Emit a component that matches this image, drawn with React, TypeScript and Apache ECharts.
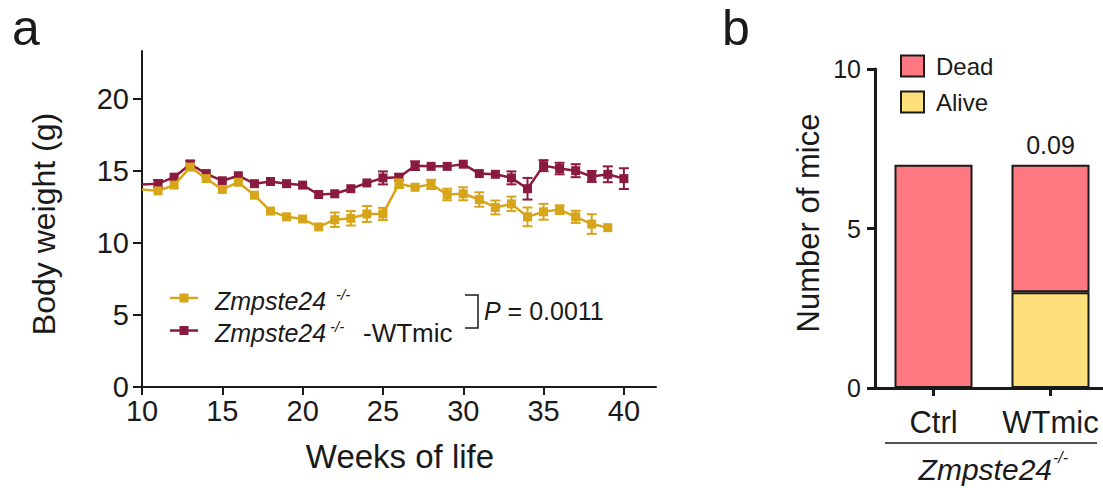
import React, { useEffect, useRef } from "react";
import * as echarts from "echarts";

// ---- Panel a: body weight ----
const weeks = [10, 11, 12, 13, 14, 15, 16, 17, 18, 19, 20, 21, 22, 23, 24, 25, 26, 27, 28, 29, 30, 31, 32, 33, 34, 35, 36, 37, 38, 39, 40];
const koMean = [13.7, 13.6, 14.0, 15.25, 14.45, 13.7, 14.2, 13.3, 12.2, 11.8, 11.65, 11.1, 11.6, 11.7, 12.0, 12.0, 14.1, 13.85, 14.05, 13.35, 13.4, 13.0, 12.45, 12.7, 11.8, 12.15, 12.3, 11.8, 11.3, 11.05, null];
const koSem = [0, 0, 0, 0, 0, 0, 0, 0, 0, 0, 0, 0, 0.5, 0.5, 0.55, 0.42, 0.3, 0, 0.32, 0.4, 0.45, 0.5, 0.48, 0.5, 0.65, 0.55, 0.3, 0.42, 0.68, 0, null];
const wtMean = [14.05, 14.1, 14.55, 15.45, 14.8, 14.3, 14.65, 14.1, 14.25, 14.1, 14.0, 13.35, 13.4, 13.75, 14.15, 14.5, 14.55, 15.35, 15.3, 15.3, 15.45, 14.8, 14.75, 14.5, 13.75, 15.35, 15.15, 15.0, 14.6, 14.75, 14.45];
const wtSem = [0, 0.25, 0, 0.25, 0, 0, 0, 0, 0, 0, 0, 0, 0, 0, 0, 0.45, 0.2, 0.3, 0, 0, 0, 0, 0, 0.45, 0.75, 0.38, 0.4, 0.45, 0.38, 0.55, 0.72];
const weekTicks = [10, 15, 20, 25, 30, 35, 40];
const weightTicks = [0, 5, 10, 15, 20];
const weightP = "0.0011";

// ---- Panel b: survival ----
const groups = ["Ctrl", "WTmic"];
const deadCounts = [7, 4];
const aliveCounts = [0, 3];
const survivalP = ["", "0.09"];

const FONT = "'Liberation Sans', Arial, Helvetica, sans-serif";
const INK = "#1a1a1a";
const GOLD = "#D7A51A";
const MAROON = "#8A1A40";
const DEAD = "#FE7882";
const ALIVE = "#FDE07B";

function errSeries(name: string, mean: (number | null)[], sem: (number | null)[], color: string, z: number) {
  return {
    type: "custom",
    name: name + " SEM",
    xAxisIndex: 0,
    yAxisIndex: 0,
    z,
    silent: true,
    data: weeks
      .map((w, i) => [w, mean[i], sem[i]])
      .filter((d) => d[1] != null && d[2]),
    encode: { x: 0, y: 1 },
    renderItem: (_params: any, api: any) => {
      const x = api.value(0);
      const m = api.value(1);
      const e = api.value(2);
      const t = api.coord([x, m + e]);
      const b = api.coord([x, m - e]);
      const hw = 5;
      const st = { stroke: color, lineWidth: 2 };
      return {
        type: "group",
        children: [
          { type: "line", shape: { x1: t[0], y1: t[1], x2: b[0], y2: b[1] }, style: st },
          { type: "line", shape: { x1: t[0] - hw, y1: t[1], x2: t[0] + hw, y2: t[1] }, style: st },
          { type: "line", shape: { x1: b[0] - hw, y1: b[1], x2: b[0] + hw, y2: b[1] }, style: st },
        ],
      };
    },
  };
}

function lineSeries(name: string, mean: (number | null)[], color: string, z: number) {
  return {
    type: "line",
    name,
    xAxisIndex: 0,
    yAxisIndex: 0,
    z,
    symbol: "rect",
    symbolSize: 9,
    showAllSymbol: true,
    itemStyle: { color },
    lineStyle: { color, width: 2.5 },
    data: weeks
      .map((w, i) => (mean[i] == null ? null : { value: [w, mean[i]], symbol: i === 0 ? "none" : "rect" }))
      .filter((d) => d != null),
  };
}

function txt(x: number, y: number, text: string, size: number, extra: any = {}) {
  return {
    type: "text",
    x,
    y,
    rotation: extra.rotation || 0,
    style: {
      text,
      fontSize: size,
      fontFamily: FONT,
      fontStyle: extra.italic ? "italic" : "normal",
      fill: INK,
      align: extra.align || "left",
      verticalAlign: "middle",
      textAlign: extra.align || "left",
      textVerticalAlign: "middle",
      rich: extra.rich,
    },
  };
}

export default function App() {
  const ref = useRef<HTMLDivElement>(null);
  useEffect(() => {
    if (!ref.current) return;
    const chart = echarts.init(ref.current, undefined, { renderer: "svg" });
    const axisLine = { show: true, lineStyle: { color: INK, width: 2 } };
    const axisLineB = { show: true, lineStyle: { color: INK, width: 3 } };
    chart.setOption({
      animation: false,
      backgroundColor: "#ffffff",
      textStyle: { fontFamily: FONT, color: INK },
      grid: [
        { left: 142, top: 51, width: 514, height: 336, outerBoundsMode: "none", containLabel: false },
        { left: 875, top: 69, width: 234, height: 319, outerBoundsMode: "none", containLabel: false },
      ],
      xAxis: [
        {
          type: "value",
          gridIndex: 0,
          min: 10,
          max: 42,
          axisLine,
          axisTick: { show: true, length: 8, lineStyle: { color: INK, width: 2 }, customValues: weekTicks },
          axisLabel: { fontSize: 29, color: INK, fontFamily: FONT, margin: 9, customValues: weekTicks },
          splitLine: { show: false },
        },
        {
          type: "category",
          gridIndex: 1,
          data: groups,
          axisLine: axisLineB,
          axisTick: { show: true, alignWithLabel: true, interval: 0, length: 8, lineStyle: { color: INK, width: 3 } },
          axisLabel: {
            fontSize: 31,
            color: INK,
            fontFamily: FONT,
            margin: 19,
            interval: 0,
            showMaxLabel: true,
            showMinLabel: true,
            hideOverlap: false,
          },
        },
      ],
      yAxis: [
        {
          type: "value",
          gridIndex: 0,
          min: 0,
          max: 23.3,
          axisLine,
          axisTick: { show: true, length: 9, lineStyle: { color: INK, width: 2 }, customValues: weightTicks },
          axisLabel: { fontSize: 29, color: INK, fontFamily: FONT, margin: 13, customValues: weightTicks },
          splitLine: { show: false },
        },
        {
          type: "value",
          gridIndex: 1,
          min: 0,
          max: 10,
          interval: 5,
          axisLine: axisLineB,
          axisTick: { show: true, length: 8, lineStyle: { color: INK, width: 3 } },
          axisLabel: { fontSize: 25, color: INK, fontFamily: FONT, margin: 14 },
          splitLine: { show: false },
        },
      ],
      legend: {
        data: ["Dead", "Alive"],
        orient: "vertical",
        left: 900,
        top: 54,
        padding: 0,
        itemWidth: 23,
        itemHeight: 21,
        itemGap: 12,
        icon: "rect",
        selectedMode: false,
        textStyle: { fontSize: 24, color: INK, fontFamily: FONT, padding: [0, 0, 0, 7] },
      },
      series: [
        errSeries("Zmpste24-/- -WTmic", wtMean, wtSem, MAROON, 2),
        lineSeries("Zmpste24-/- -WTmic", wtMean, MAROON, 3),
        errSeries("Zmpste24-/-", koMean, koSem, GOLD, 4),
        lineSeries("Zmpste24-/-", koMean, GOLD, 5),
        {
          type: "bar",
          name: "Alive",
          xAxisIndex: 1,
          yAxisIndex: 1,
          stack: "mice",
          barWidth: 78,
          itemStyle: { color: ALIVE, borderColor: INK, borderWidth: 2 },
          data: aliveCounts.map((v) => (v === 0 ? null : v)),
        },
        {
          type: "bar",
          name: "Dead",
          xAxisIndex: 1,
          yAxisIndex: 1,
          stack: "mice",
          barWidth: 78,
          itemStyle: { color: DEAD, borderColor: INK, borderWidth: 2 },
          data: deadCounts.map((v, i) => ({
            value: v,
            label: {
              show: survivalP[i] !== "",
              position: "top",
              distance: 7,
              formatter: survivalP[i],
              fontSize: 25,
              color: INK,
              fontFamily: FONT,
            },
          })),
        },
      ],
      graphic: [
        // panel letters
        txt(12, 28, "a", 50),
        txt(722, 28, "b", 50),
        // axis titles
        txt(44, 224, "Body weight (g)", 32, { align: "center", rotation: Math.PI / 2 }),
        txt(400, 456, "Weeks of life", 33, { align: "center" }),
        txt(808, 223, "Number of mice", 31, { align: "center", rotation: Math.PI / 2 }),
        // legend panel a
        { type: "line", shape: { x1: 170, y1: 298, x2: 198, y2: 298 }, style: { stroke: GOLD, lineWidth: 2.5 } },
        { type: "rect", shape: { x: 179.5, y: 293.5, width: 9, height: 9 }, style: { fill: GOLD } },
        txt(215, 301, "Zmpste24", 25, { italic: true }),
        txt(336, 294, "-/-", 15, { italic: true }),
        { type: "line", shape: { x1: 170, y1: 330.5, x2: 198, y2: 330.5 }, style: { stroke: MAROON, lineWidth: 2.5 } },
        { type: "rect", shape: { x: 179.5, y: 326, width: 9, height: 9 }, style: { fill: MAROON } },
        txt(215, 333, "Zmpste24", 25, { italic: true }),
        txt(330, 326, "-/-", 15, { italic: true }),
        txt(363, 333, "-WTmic", 26),
        {
          type: "polyline",
          shape: { points: [[465, 295], [478, 295], [478, 328], [465, 328]] },
          style: { stroke: INK, lineWidth: 1.5, fill: "none" },
        },
        txt(484, 311, "{i|P} = " + weightP, 25, {
          rich: { i: { fontStyle: "italic", fontSize: 25, fontFamily: FONT, fill: INK, color: INK } },
        }),
        // panel b group label
        { type: "line", shape: { x1: 885, y1: 443, x2: 1097, y2: 443 }, style: { stroke: INK, lineWidth: 1.5 } },
        txt(1052, 469, "Zmpste24", 30, { italic: true, align: "right" }),
        txt(1053, 457, "-/-", 16, { italic: true }),
      ],
    });
    return () => chart.dispose();
  }, []);
  return (
    <div
      ref={ref}
      style={{ position: "absolute", left: 0, top: 0, width: 1103, height: 488, background: "#fff" }}
    />
  );
}
